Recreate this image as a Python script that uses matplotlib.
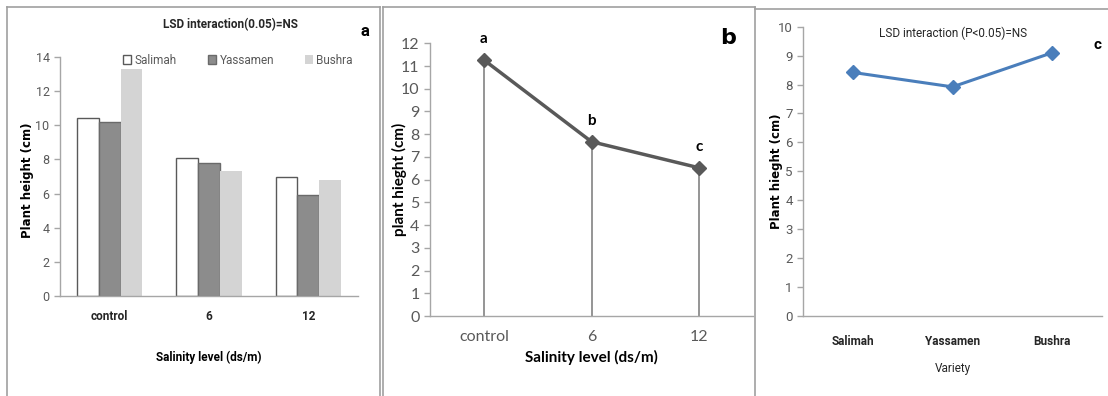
import matplotlib.pyplot as plt
import numpy as np
from matplotlib.lines import Line2D

# data
salinity = ['control', '6', '12']
salimah = [10.4, 8.07, 7.0]
yassamen = [10.2, 7.8, 5.9]
bushra = [13.3, 7.3, 6.8]

salinity_mean = [11.27, 7.67, 6.52]
salinity_letters = ['a', 'b', 'c']

varieties = ['Salimah', 'Yassamen', 'Bushra']
variety_mean = [8.42, 7.92, 9.1]

NARROW = ['Roboto', 'DejaVu Sans']
WIDE = ['Lato', 'DejaVu Sans']
HEAVY = ['DejaVu Sans']
TICK_GREY = '#595959'
AXIS_GREY = '#a6a6a6'

fig = plt.figure(figsize=(11.08, 3.96), dpi=100)
W, H = 1108, 396

def px_axes(x0, y0, x1, y1):
    # pixel box (left, top, right, bottom) -> figure axes
    return fig.add_axes([x0 / W, 1 - y1 / H, (x1 - x0) / W, (y1 - y0) / H])

def style_axes(ax, family, size):
    for s in ['top', 'right']:
        ax.spines[s].set_visible(False)
    for s in ['left', 'bottom']:
        ax.spines[s].set_color(AXIS_GREY)
        ax.spines[s].set_linewidth(1)
    ax.tick_params(axis='y', colors=AXIS_GREY, labelcolor=TICK_GREY, length=4, width=1)
    ax.tick_params(axis='x', length=0, labelcolor='#262626', pad=10)
    for lab in ax.get_yticklabels() + ax.get_xticklabels():
        lab.set_family(family)
        lab.set_fontsize(size)

# ---- panel a: grouped bars ----
ax1 = px_axes(60, 57, 358, 296)
x = np.arange(len(salinity))
bw = 0.22
ax1.bar(x - bw, salimah, bw, color='white', edgecolor='#595959', linewidth=1, label='Salimah')
ax1.bar(x, yassamen, bw, color='#8c8c8c', edgecolor='#6a6a6a', linewidth=1, label='Yassamen')
ax1.bar(x + bw, bushra, bw, color='#d4d4d4', edgecolor='none', label='Bushra')
ax1.set_xlim(-0.5, 2.5)
ax1.set_ylim(0, 14)
ax1.set_yticks(range(0, 15, 2))
ax1.set_xticks(x)
ax1.set_xticklabels(salinity)
style_axes(ax1, NARROW, 9)
for lab in ax1.get_xticklabels():
    lab.set_fontweight('bold')
    lab.set_fontsize(8.5)
ax1.set_ylabel('Plant height (cm)', fontsize=8.5, fontweight='bold', family=HEAVY)
ax1.yaxis.set_label_coords(-0.088, 0.485)
ax1.set_xlabel('Salinity level (ds/m)', fontsize=8.5, fontweight='bold', family=NARROW, labelpad=20)
leg = ax1.legend(ncol=3, frameon=False, loc='center', bbox_to_anchor=(238 / W, 1 - 60 / H),
                 bbox_transform=fig.transFigure, handlelength=0.7, handleheight=0.7,
                 handletextpad=0.3, columnspacing=2.6, prop={'family': NARROW, 'size': 8.5})
for t in leg.get_texts():
    t.set_color(TICK_GREY)
fig.text(230 / W, 1 - 25 / H, 'LSD interaction(0.05)=NS', ha='center', va='center',
         family=NARROW, fontsize=8.5, fontweight='bold', color='#262626')
fig.text(365 / W, 1 - 31 / H, 'a', ha='center', va='center', family=NARROW,
         fontsize=12, fontweight='bold')

# ---- panel b: salinity mean line ----
ax2 = px_axes(430, 43.3, 753, 316)
xb = np.arange(len(salinity))
ax2.set_xlim(-0.5, 2.5)
ax2.set_ylim(0, 12)
ax2.vlines(xb, 0, salinity_mean, color='#8c8c8c', linewidth=1.3, zorder=1)
ax2.plot(xb, salinity_mean, color='#595959', linewidth=2.5, marker='D', markersize=7, zorder=3)
for xi, yi, letter in zip(xb, salinity_mean, salinity_letters):
    ax2.annotate(letter, (xi, yi), xytext=(0, 10), textcoords='offset points', ha='center',
                 va='bottom', fontsize=11, fontweight='bold', family=WIDE)
ax2.set_yticks(range(0, 13))
ax2.set_xticks(xb)
ax2.set_xticklabels(salinity)
style_axes(ax2, WIDE, 11.5)
for lab in ax2.get_xticklabels():
    lab.set_color(TICK_GREY)
ax2.set_ylabel('plant hieght (cm)', fontsize=11, fontweight='bold', family=WIDE)
ax2.yaxis.set_label_coords(-0.072, 0.5)
ax2.set_xlabel('Salinity level (ds/m)', fontsize=11, fontweight='bold', family=WIDE, labelpad=4)
fig.text(728 / W, 1 - 38 / H, 'b', ha='center', va='center', family=HEAVY,
         fontsize=16, fontweight='bold')

# ---- panel c: variety mean line ----
ax3 = px_axes(803, 26.7, 1102, 316)
xc = np.arange(len(varieties))
ax3.plot(xc, variety_mean, color='#4a7ebb', linewidth=2.2, marker='D', markersize=7)
ax3.set_xlim(-0.5, 2.5)
ax3.set_ylim(0, 10)
ax3.set_yticks(range(0, 11))
ax3.set_xticks(xc)
ax3.set_xticklabels(varieties)
style_axes(ax3, NARROW, 9.5)
for lab in ax3.get_xticklabels():
    lab.set_fontweight('bold')
    lab.set_fontsize(8.5)
ax3.tick_params(axis='x', pad=14)
ax3.set_ylabel('Plant hieght (cm)', fontsize=8.5, fontweight='bold', family=HEAVY)
ax3.yaxis.set_label_coords(-0.067, 0.5)
ax3.set_xlabel('Variety', fontsize=8.5, family=NARROW, color='#262626', labelpad=10)
fig.text(953 / W, 1 - 33 / H, 'LSD interaction (P<0.05)=NS', ha='center', va='center',
         family=NARROW, fontsize=8.5, color='#262626')
fig.text(1098 / W, 1 - 45 / H, 'c', ha='center', va='center', family=NARROW,
         fontsize=11, fontweight='bold')

# panel frames
frame = dict(color='#a0a0a0', linewidth=1.2, transform=fig.transFigure)
for xs, ys in [((7, 7), (396, 7)), ((7, 380), (7, 7)), ((380, 380), (7, 396)),
               ((383, 383), (7, 396)), ((383, 755), (7, 7)), ((755, 755), (7, 396)),
               ((755, 1108), (9, 9))]:
    fig.add_artist(Line2D([v / W for v in xs], [1 - v / H for v in ys], **frame))

fig.savefig('out.png', dpi=100)
